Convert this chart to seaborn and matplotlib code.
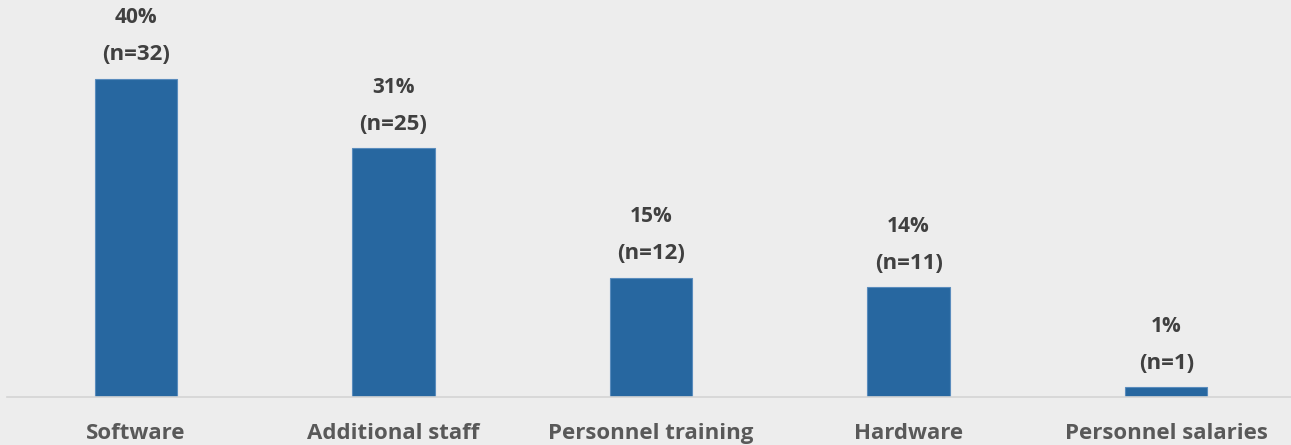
import matplotlib.pyplot as plt
import seaborn as sns
import pandas as pd

# values
categories = ['Software', 'Additional staff', 'Personnel training', 'Hardware', 'Personnel salaries']
percent = [39.5, 30.9, 14.8, 13.6, 1.2]
pct_labels = ['40%', '31%', '15%', '14%', '1%']
n_labels = ['(n=32)', '(n=25)', '(n=12)', '(n=11)', '(n=1)']

df = pd.DataFrame({'category': categories, 'percent': percent})

sns.set_style('white')
plt.rcParams['font.family'] = ['Open Sans', 'DejaVu Sans']

bg = '#ededed'
fig = plt.figure(figsize=(12.91, 4.45), dpi=100, facecolor=bg)
ax = fig.add_axes([7 / 1291, 48 / 445, 1288 / 1291, 397 / 445])
ax.set_facecolor(bg)

sns.barplot(data=df, x='category', y='percent', color='#2767a0', width=0.32,
            edgecolor='#5a8cbd', linewidth=0.8, saturation=1, ax=ax)

ax.set_xlim(-0.5, 4.5)
ax.set_ylim(0, 49.3)

# two-line value labels above each bar
for i, p in enumerate(percent):
    ax.annotate(n_labels[i], (i, p), xytext=(0, 24), textcoords='offset pixels',
                ha='center', va='center', fontsize=16, fontweight='bold', color='#404040')
    ax.annotate(pct_labels[i], (i, p), xytext=(0, 61), textcoords='offset pixels',
                ha='center', va='center', fontsize=15, fontweight='bold', color='#404040')

ax.set_xlabel('')
ax.set_ylabel('')
ax.set_yticks([])
ax.tick_params(axis='x', length=0, pad=19, labelsize=16, labelcolor='#595959')
for lbl in ax.get_xticklabels():
    lbl.set_fontweight('bold')

for s in ['top', 'right', 'left']:
    ax.spines[s].set_visible(False)
ax.spines['bottom'].set_color('#d4d4d4')
ax.spines['bottom'].set_linewidth(1.2)

fig.savefig('out.png', dpi=100, facecolor=bg)
